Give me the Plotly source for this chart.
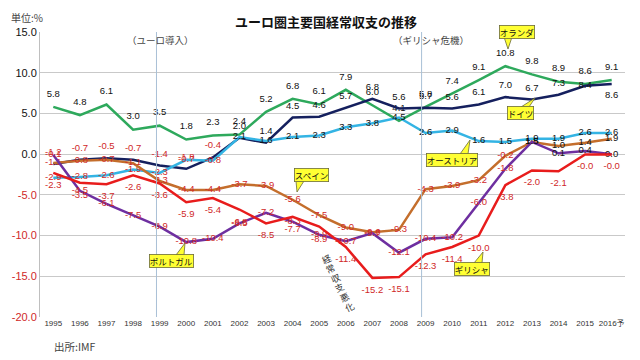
import plotly.graph_objects as go

# ---------------- data ----------------
years = ["1995", "1996", "1997", "1998", "1999", "2000", "2001", "2002", "2003", "2004",
         "2005", "2006", "2007", "2008", "2009", "2010", "2011", "2012", "2013", "2014",
         "2015", "2016予"]

netherlands = [5.8, 4.8, 6.1, 3.0, 3.5, 1.8, 2.3, 2.4, 5.2, 6.8, 6.1, 7.9, 6.0, 4.1,
               5.8, 7.4, 9.1, 10.8, 9.8, 8.9, 8.6, 9.1]
germany = [-1.2, -0.7, -0.5, -0.7, -1.4, -1.8, -0.4, 2.0, 1.4, 4.5, 4.6, 5.7, 6.8, 5.6,
           5.7, 5.6, 6.1, 7.0, 6.7, 7.3, 8.4, 8.6]
austria = [-2.9, -2.8, -2.6, -1.9, -2.3, -0.7, -0.8, 2.1, 1.6, 2.1, 2.3, 3.3, 3.8, 4.5,
           2.6, 2.9, 1.6, 1.5, 1.9, 1.9, 2.6, 2.6]
spain = [-1.1, -0.8, -0.7, -1.1, -3.3, -4.4, -4.4, -3.7, -3.9, -5.6, -7.5, -9.0, -9.6, -9.3,
         -4.3, -3.9, -3.2, -0.2, 1.5, 1.0, 1.4, 1.9]
portugal = [-0.1, -4.5, -6.1, -7.5, -8.9, -10.8, -10.4, -8.5, -7.2, -8.3, -9.9, -10.7, -9.7,
            -12.1, -10.4, -10.2, -6.0, -1.8, 1.5, 0.1, 0.4, 0.0]
greece = [-2.3, -3.5, -3.7, -2.6, -3.6, -5.9, -5.4, -6.8, -8.5, -7.7, -8.9, -11.4, -15.2,
          -15.1, -12.3, -11.4, -10.0, -3.8, -2.0, -2.1, -0.04, -0.04]

y_ticks = [15, 10, 5, 0, -5, -10, -15, -20]

# ---------------- style ----------------
NEG = "#D02828"
POS = "#111111"
FONT = "Liberation Sans, Noto Sans CJK JP, sans-serif"
JP = "Noto Sans CJK JP, sans-serif"

n = len(years)
germany_pos = ["top center"] * (n - 2) + ["middle center", "bottom center"]

# (name, values, colour, label position, invisible marker size for label offset)
series = [
    ("オランダ", netherlands, "#2EA95C", "top center", 11),
    ("ドイツ", germany, "#15205E", germany_pos, 9),
    ("オーストリア", austria, "#34B4E4", "middle center", 0),
    ("スペイン", spain, "#C46E2C", "middle center", 0),
    ("ポルトガル", portugal, "#6E2FA0", "middle center", 0),
    ("ギリシャ", greece, "#E81C1C", "bottom center", 11),
]

fig = go.Figure()
for name, vals, color, tpos, msize in series:
    labels = [f"{v:.1f}" for v in vals]
    fig.add_trace(go.Scatter(
        x=years, y=vals, name=name,
        mode="lines+markers+text" if msize else "lines+text",
        line=dict(color=color, width=2.5),
        marker=dict(size=msize or 6, color="rgba(0,0,0,0)"),
        text=labels,
        textposition=tpos,
        textfont=dict(family=FONT, size=9.5,
                      color=[NEG if s.startswith("-") else POS for s in labels]),
        hoverinfo="skip", showlegend=False,
    ))

# The page body adds an 8px offset; screen-pixel layout targets below.
OFF = 8
L, R, T, B = 40, 625, 32, 317          # plot area on screen
def px(x):
    return (x - L) / (R - L)
def py(y):
    return (B - y) / (B - T)

shapes = []
# event lines (1999 euro introduction, 2009 Greek crisis)
for idx in (4 - 0.12, 14 - 0.15):
    shapes.append(dict(type="line", xref="x", yref="paper", x0=idx, x1=idx, y0=0, y1=1,
                       line=dict(color="#A9C0D6", width=1), layer="above"))

# callouts: (text, box centre px, tail triangle px)
callouts = [
    ("オランダ", (517, 32), [(504, 37), (512, 37), (508, 49)]),
    ("ドイツ", (520, 113), [(521, 107), (529, 107), (535, 98)]),
    ("スペイン", (311, 175), [(296, 181), (304, 181), (297, 192)]),
    ("オーストリア", (452, 160), [(460, 154), (468, 154), (470, 140)]),
    ("ポルトガル", (171, 261), [(176, 255), (184, 255), (185, 243)]),
    ("ギリシャ", (472, 269), [(474, 263), (482, 263), (483, 252)]),
]
annotations = []
for text, (cx, cy), tri in callouts:
    path = "M {} {} L {} {} L {} {} Z".format(
        px(tri[0][0]), py(tri[0][1]), px(tri[2][0]), py(tri[2][1]), px(tri[1][0]), py(tri[1][1]))
    shapes.append(dict(type="path", xref="paper", yref="paper", path=path,
                       fillcolor="#FFFF33", line=dict(color="#6B6B3A", width=0.8), layer="above"))
    annotations.append(dict(xref="paper", yref="paper", x=px(cx), y=py(cy), text=text,
                            showarrow=False, font=dict(family=JP, size=8.5, color="#111"),
                            bgcolor="#FFFF33", bordercolor="#6B6B3A", borderwidth=0.8,
                            borderpad=0, xanchor="center", yanchor="middle"))

# slanted vertical note "経常収支悪化"
note = "経常収支悪化"
x_start, y_start, x_end, y_end = 326, 259, 349, 307
for i, ch in enumerate(note):
    f = i / (len(note) - 1)
    annotations.append(dict(xref="paper", yref="paper",
                            x=px(x_start + (x_end - x_start) * f),
                            y=py(y_start + (y_end - y_start) * f),
                            text=ch, showarrow=False, textangle=-25,
                            xanchor="center", yanchor="middle",
                            font=dict(family=JP, size=9, color="#333")))

annotations += [
    dict(xref="paper", yref="paper", x=px(160), y=py(40), text="（ユーロ導入）", showarrow=False,
         xanchor="center", yanchor="middle", font=dict(family=JP, size=9.5, color="#444")),
    dict(xref="paper", yref="paper", x=px(431), y=py(40), text="（ギリシャ危機）", showarrow=False,
         xanchor="center", yanchor="middle", font=dict(family=JP, size=9.5, color="#444")),
    dict(xref="paper", yref="paper", x=px(9), y=py(17), xanchor="left", yanchor="middle",
         text="単位:%", showarrow=False, font=dict(family=JP, size=10, color="#444")),
    dict(xref="paper", yref="paper", x=px(52), y=py(347), xanchor="left", yanchor="middle",
         text="出所:IMF", showarrow=False, font=dict(family=JP, size=10.5, color="#444")),
]

tick_text = [f"<span style='color:{NEG if v < 0 else POS}'>{v:.1f}</span>" for v in y_ticks]

W, H = 640, 360
fig.update_layout(
    width=W, height=H,
    margin=dict(l=L - OFF, r=W - (R - OFF), t=T - OFF, b=H - (B - OFF), autoexpand=False),
    paper_bgcolor="white", plot_bgcolor="white",
    title=dict(text="<b>ユーロ圏主要国経常収支の推移</b>", x=(326 - OFF) / W, xanchor="center",
               y=1 - (22 - OFF) / H, yanchor="middle", font=dict(family=JP, size=13, color="#111")),
    xaxis=dict(type="category", range=[-0.5, n - 0.5], showgrid=False,
               showline=False, ticks="", automargin=False,
               tickfont=dict(family=FONT, size=8, color="#333")),
    yaxis=dict(range=[-20, 15], tickvals=y_ticks, ticktext=tick_text, showgrid=True,
               gridcolor="#C9C9C9", gridwidth=1, zeroline=False, showline=True,
               linecolor="#BFBFBF", ticks="", automargin=False,
               tickfont=dict(family=FONT, size=11)),
    shapes=shapes, annotations=annotations,
    font=dict(family=FONT),
)

fig.write_html("out.html")
